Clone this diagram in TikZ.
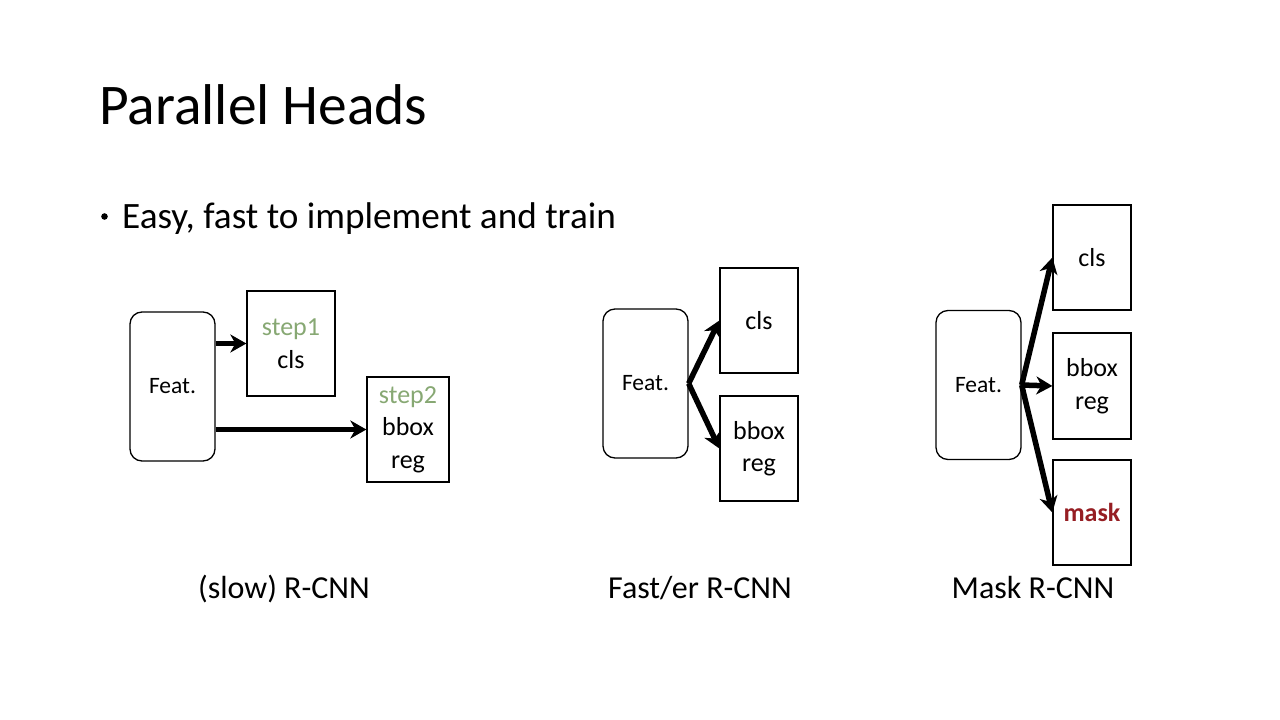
\documentclass[tikz,border=0pt]{standalone}
\usepackage{fontspec}
\setmainfont{Carlito}
\usetikzlibrary{arrows.meta}
\definecolor{stepgreen}{RGB}{135,168,115}
\definecolor{maskred}{RGB}{150,30,35}
\tikzset{
  feat/.style={draw, line width=1.3pt, rounded corners=12pt, minimum width=85pt, minimum height=149pt, inner sep=0pt, font=\fontsize{23.5}{28}\selectfont},
  head/.style={draw, line width=1.3pt, inner sep=0pt, align=center, font=\fontsize{26}{32.5}\selectfont},
  arr/.style={line width=5.5pt, -{Stealth[length=16pt,width=18pt,inset=5pt]}},
  caplabel/.style={font=\fontsize{32}{38}\selectfont, anchor=base},
}
\begin{document}
\begin{tikzpicture}[x=1pt,y=-1pt]
\useasboundingbox (0,0) rectangle (1280,720);
\fill[white] (0,0) rectangle (1280,720);
% title and bullet
\node[anchor=base west, inner sep=0pt, font=\fontsize{57.5}{70}\selectfont] (title) at (99,124) {Parallel Heads};
\fill (104.5,216.5) circle (3.3pt);
\node[anchor=base west, inner sep=0pt, font=\fontsize{37.2}{46}\selectfont] (bullet) at (122,228) {Easy, fast to implement and train};

% (slow) R-CNN
\node[feat] (feat1) at (172.5,386.5) {Feat.};
\node[head, minimum width=88pt, minimum height=105pt] (cls1) at (291,343.5) {\textcolor{stepgreen}{step1}\\cls};
\node[head, minimum width=82pt, minimum height=105pt] (reg1) at (408,429.5) {\textcolor{stepgreen}{step2}\\bbox\\reg};
\draw[arr] (feat1.east |- cls1.west) -- (cls1.west);
\draw[arr] (feat1.east |- reg1.west) -- (reg1.west);
\node[caplabel] (lab1) at (284,598) {(slow) R-CNN};

% Fast/er R-CNN
\node[feat] (feat2) at (645.5,383.5) {Feat.};
\node[head, minimum width=78pt, minimum height=105pt] (cls2) at (759,320.5) {cls};
\node[head, minimum width=78pt, minimum height=105pt] (reg2) at (759,448.5) {bbox\\reg};
\draw[arr] (feat2.east) -- (cls2.west);
\draw[arr] (feat2.east) -- (reg2.west);
\node[caplabel] (lab2) at (700,598) {Fast/er R-CNN};

% Mask R-CNN
\node[feat] (feat3) at (978.5,385) {Feat.};
\node[head, minimum width=78pt, minimum height=105pt] (cls3) at (1092,257.5) {cls};
\node[head, minimum width=78pt, minimum height=106pt] (reg3) at (1092,386) {bbox\\reg};
\node[head, minimum width=78pt, minimum height=105pt] (mask3) at (1092,512.5) {\textcolor{maskred}{\textbf{mask}}};
\draw[arr] (feat3.east) -- (cls3.west);
\draw[arr] (feat3.east) -- (reg3.west);
\draw[arr] (feat3.east) -- (mask3.west);
\node[caplabel] (lab3) at (1033,598) {Mask R-CNN};
\end{tikzpicture}
\end{document}
